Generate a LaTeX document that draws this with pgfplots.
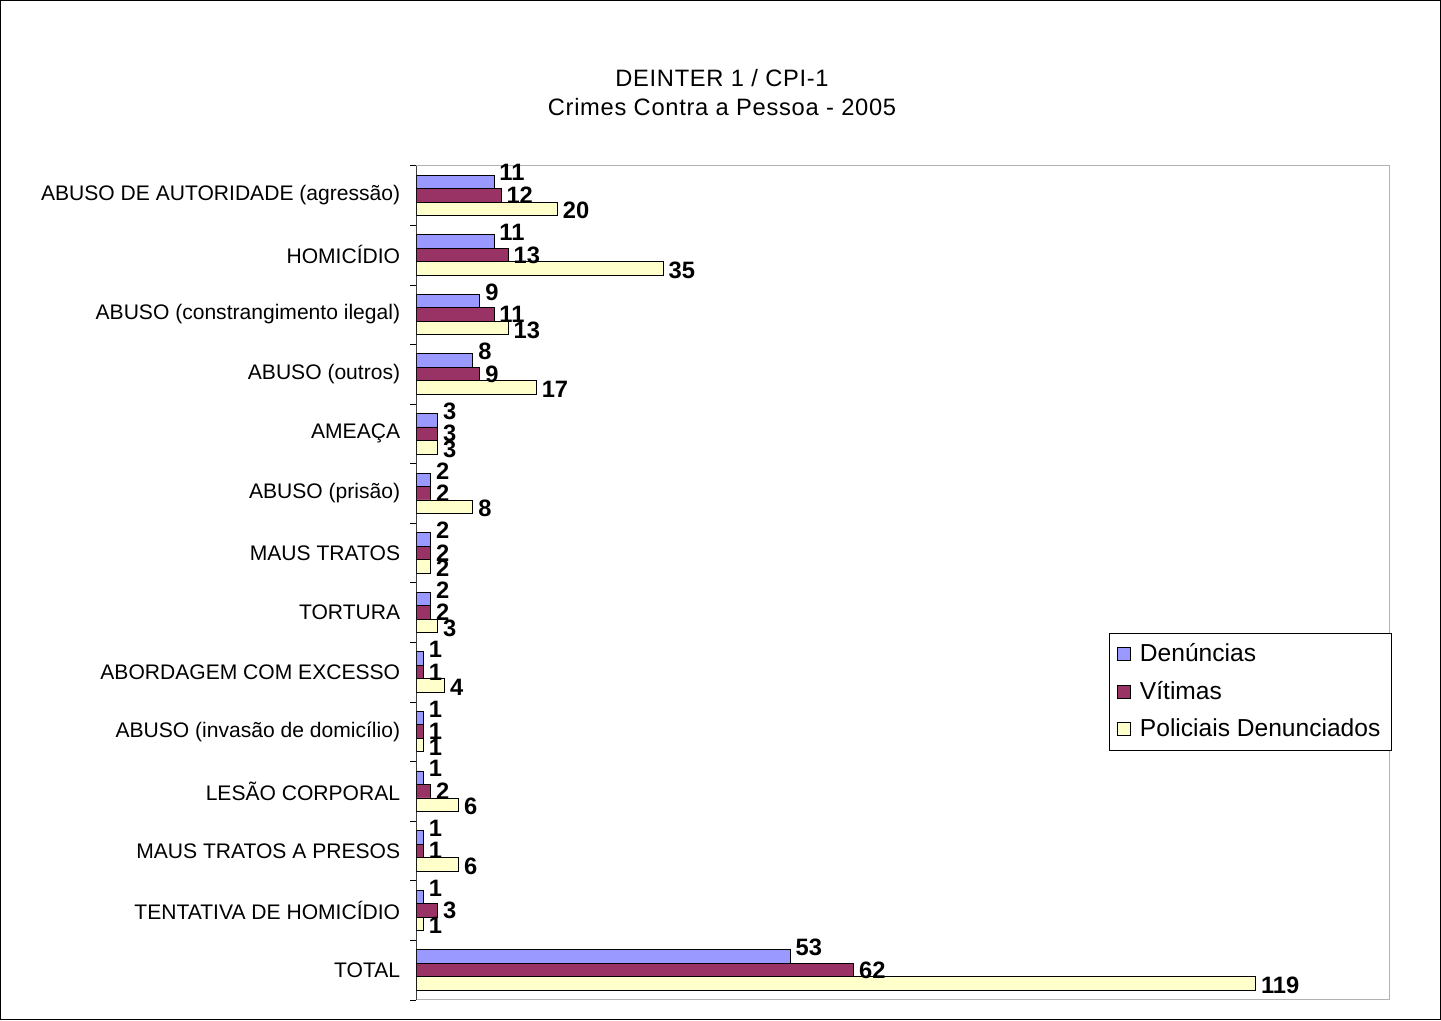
\documentclass[border=0pt]{standalone}
\usepackage{fontspec}
\setmainfont{Liberation Sans}
\usepackage{pgfplots}
\pgfplotsset{compat=1.18}
\definecolor{cDen}{RGB}{153,153,255}
\definecolor{cVit}{RGB}{153,51,102}
\definecolor{cPol}{RGB}{255,255,204}
\begin{document}
\begin{tikzpicture}
% frame of the whole chart: 1 px = 0.02 cm
\draw[black, line width=0.8pt] (0,0) rectangle (28.82cm,20.4cm);
\node[font=\fontsize{13.5}{17}\selectfont\addfontfeatures{LetterSpace=3}, align=center] at (14.44cm,18.56cm)
  {DEINTER 1 / CPI-1\\Crimes Contra a Pessoa - 2005};
\begin{axis}[
    at={(8.32cm,0.4cm)}, anchor=south west,
    scale only axis,
    width=19.48cm, height=16.7cm,
    xbar,
    bar width=0.27cm,
    xmin=0, xmax=138,
    ymin=-0.5, ymax=13.5,
    xtick=\empty,
    ytick={0,...,13},
    yticklabels={TOTAL, TENTATIVA DE HOMICÍDIO, MAUS TRATOS A PRESOS, LESÃO CORPORAL,
      ABUSO (invasão de domicílio), ABORDAGEM COM EXCESSO, TORTURA, MAUS TRATOS,
      ABUSO (prisão), AMEAÇA, ABUSO (outros), ABUSO (constrangimento ilegal),
      HOMICÍDIO, ABUSO DE AUTORIDADE (agressão)},
    major tick length=0pt,
    minor ytick={-0.5,0.5,...,13.5},
    minor tick length=0.12cm,
    tick align=outside,
    ytick pos=left,
    minor tick style={black},
    axis line style={draw=gray!60},
    y tick label style={font=\fontsize{12}{14}\selectfont, xshift=-0.2cm},
    point meta=x,
    nodes near coords,
    nodes near coords style={font=\fontsize{13.5}{15}\selectfont\bfseries, anchor=west, inner sep=3pt},
    /pgf/number format/assume math mode=true,
    legend image code/.code={\draw[#1, draw=black] (0cm,-0.13cm) rectangle (0.26cm,0.13cm);},
    legend style={at={(1.002,0.44)}, anchor=north east, draw=black,
      font=\fontsize{14}{16}\selectfont, row sep=0.2cm, column sep=0.12cm, inner sep=4pt},
    legend cell align=left,
]
\addplot[fill=cDen, draw=black, bar shift=0.27cm,
  every node near coord/.append style={yshift=0.18cm}] coordinates {
  (11,13) (11,12) (9,11) (8,10) (3,9) (2,8) (2,7) (2,6) (1,5) (1,4) (1,3) (1,2) (1,1) (53,0)};
\addplot[fill=cVit, draw=black, bar shift=0cm] coordinates {
  (12,13) (13,12) (11,11) (9,10) (3,9) (2,8) (2,7) (2,6) (1,5) (1,4) (2,3) (1,2) (3,1) (62,0)};
\addplot[fill=cPol, draw=black, bar shift=-0.27cm,
  every node near coord/.append style={yshift=-0.04cm}] coordinates {
  (20,13) (35,12) (13,11) (17,10) (3,9) (8,8) (2,7) (3,6) (4,5) (1,4) (6,3) (6,2) (1,1) (119,0)};
\legend{Denúncias, Vítimas, Policiais Denunciados}
\draw[black] (rel axis cs:0,0) -- (rel axis cs:0,1);
\end{axis}
\end{tikzpicture}
\end{document}
